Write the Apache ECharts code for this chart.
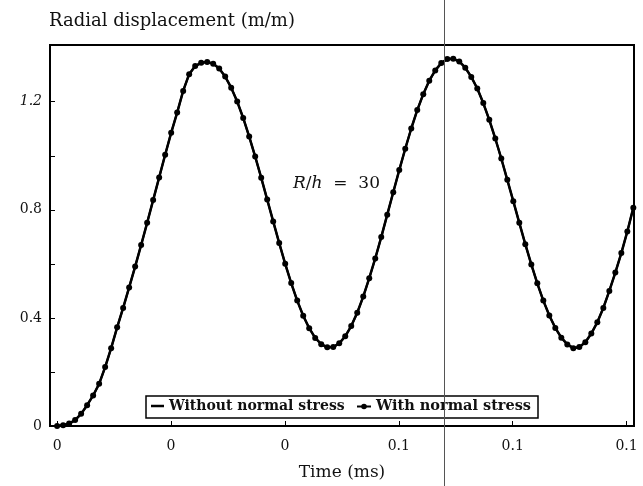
<!DOCTYPE html>
<html>
<head>
<meta charset="utf-8">
<script src="https://cdn.jsdelivr.net/npm/echarts@6/dist/echarts.min.js"></script>
<style>html,body{margin:0;padding:0;background:#fff;}#c{width:643px;height:486px;}</style>
</head>
<body>
<div id="c"></div>
<script>
// Sampling step of the plotted points (ms)
const timeStep = 0.001054;
// Radial displacement (m/m), with normal stress (marked line)
const withNormal = [
  0, 0.003, 0.009, 0.022, 0.045, 0.077, 0.113, 0.156, 0.218, 0.288,
  0.365, 0.437, 0.513, 0.590, 0.670, 0.752, 0.836, 0.920, 1.004, 1.085,
  1.160, 1.240, 1.302, 1.332, 1.344, 1.347, 1.341, 1.323, 1.293, 1.252,
  1.201, 1.140, 1.071, 0.997, 0.919, 0.838, 0.757, 0.677, 0.600, 0.529,
  0.464, 0.408, 0.362, 0.326, 0.303, 0.291, 0.292, 0.306, 0.332, 0.370,
  0.419, 0.479, 0.547, 0.620, 0.699, 0.782, 0.865, 0.947, 1.026, 1.101,
  1.169, 1.228, 1.278, 1.316, 1.343, 1.358, 1.359, 1.349, 1.326, 1.292,
  1.249, 1.195, 1.133, 1.064, 0.990, 0.911, 0.832, 0.752, 0.673, 0.598,
  0.528, 0.464, 0.409, 0.363, 0.327, 0.302, 0.288, 0.292, 0.310, 0.342,
  0.384, 0.437, 0.500, 0.568, 0.640, 0.720, 0.808
];
// Radial displacement (m/m), without normal stress (plain line)
const withoutNormal = [
  0, 0.003, 0.009, 0.022, 0.045, 0.077, 0.113, 0.156, 0.218, 0.288,
  0.365, 0.437, 0.513, 0.590, 0.670, 0.752, 0.836, 0.920, 1.004, 1.085,
  1.160, 1.240, 1.302, 1.332, 1.344, 1.347, 1.341, 1.323, 1.293, 1.252,
  1.201, 1.140, 1.071, 0.997, 0.919, 0.838, 0.757, 0.677, 0.600, 0.529,
  0.464, 0.408, 0.362, 0.326, 0.303, 0.291, 0.292, 0.306, 0.332, 0.370,
  0.419, 0.479, 0.547, 0.620, 0.699, 0.782, 0.865, 0.947, 1.026, 1.101,
  1.169, 1.228, 1.278, 1.316, 1.343, 1.358, 1.359, 1.349, 1.326, 1.292,
  1.249, 1.195, 1.133, 1.064, 0.990, 0.911, 0.832, 0.752, 0.673, 0.598,
  0.528, 0.464, 0.409, 0.363, 0.327, 0.302, 0.288, 0.292, 0.310, 0.342,
  0.384, 0.437, 0.500, 0.568, 0.640, 0.720, 0.808
];
const seriesNames = ['Without normal stress', 'With normal stress'];
const xTickValues = [0, 0.02, 0.04, 0.06, 0.08, 0.1];
const xTickLabels = ['0', '0', '0', '0.1', '0.1', '0.1'];
const yTickValues = [0, 0.2, 0.4, 0.6, 0.8, 1.0, 1.2];
const yLabelValues = [0, 0.4, 0.8, 1.2];
const yLabelTexts = ['0', '0.4', '0.8', '{it|1.2}'];
const titleText = 'Radial displacement (m/m)';
const xName = 'Time (ms)';
const annotation = '{i|R}/{i|h}  =  30';

function pairs(vals) { return vals.map((v, i) => [i * timeStep, v]); }
function pick(values, texts, v) {
  let best = 0;
  values.forEach((x, i) => { if (Math.abs(x - v) < Math.abs(values[best] - v)) best = i; });
  return texts[best];
}
const serif = 'DejaVu Serif';
const legendText = { fontFamily: serif, fontSize: 14, fontWeight: 'bold', color: '#111' };
const chart = echarts.init(document.getElementById('c'), null, { renderer: 'canvas' });
chart.setOption({
  backgroundColor: '#fff',
  animation: false,
  title: {
    text: titleText, left: 44, top: 7,
    textStyle: { fontFamily: serif, fontSize: 18, fontWeight: 'normal', color: '#111' }
  },
  grid: { left: 50, right: 9, top: 45, bottom: 59, show: true, borderColor: '#000', borderWidth: 2, backgroundColor: 'transparent' },
  legend: [
    {
      left: 151, top: 399, padding: 0, z: 10, itemWidth: 13, itemHeight: 2.5, itemGap: 4,
      icon: 'rect', textStyle: legendText, data: [seriesNames[0]]
    },
    {
      left: 356, top: 399, padding: 0, z: 10, itemWidth: 14, itemHeight: 7, itemGap: 4,
      textStyle: Object.assign({}, legendText, { fontSize: 14.5 }), data: [seriesNames[1]]
    }
  ],
  xAxis: {
    type: 'value', min: -0.00125, max: 0.1013,
    name: xName, nameLocation: 'middle', nameGap: 38,
    nameTextStyle: { fontFamily: serif, fontSize: 17, color: '#111' },
    axisLine: { show: false, onZero: false },
    axisTick: { show: true, inside: true, length: 5, customValues: xTickValues, lineStyle: { color: '#000' } },
    axisLabel: {
      customValues: xTickValues, margin: 13,
      formatter: v => pick(xTickValues, xTickLabels, v),
      fontFamily: serif, fontSize: 14, color: '#111'
    },
    splitLine: { show: false }
  },
  yAxis: {
    type: 'value', min: 0, max: 1.41,
    axisLine: { show: false, onZero: false },
    axisTick: { show: true, inside: true, length: 5, customValues: yTickValues, lineStyle: { color: '#000' } },
    axisLabel: {
      customValues: yLabelValues, margin: 8,
      formatter: v => pick(yLabelValues, yLabelTexts, v),
      fontFamily: serif, fontSize: 14, color: '#111',
      rich: { it: { fontFamily: serif, fontSize: 14, fontStyle: 'italic', color: '#111' } }
    },
    splitLine: { show: false }
  },
  series: [
    {
      name: seriesNames[0], type: 'line', data: pairs(withoutNormal),
      showSymbol: false, symbol: 'none',
      lineStyle: { color: '#000', width: 2.5 }, itemStyle: { color: '#000' }, z: 2
    },
    {
      name: seriesNames[1], type: 'line', data: pairs(withNormal),
      symbol: 'circle', symbolSize: 6, showSymbol: true,
      lineStyle: { color: '#000', width: 2 }, itemStyle: { color: '#000' }, z: 3
    }
  ],
  graphic: [
    {
      type: 'rect', z: 5,
      shape: { x: 146, y: 396, width: 392, height: 22 },
      style: { fill: '#fff', stroke: '#000', lineWidth: 1.5 }
    },
    {
      type: 'text', left: 293, top: 175, z: 10,
      style: {
        text: annotation,
        rich: { i: { fontFamily: serif, fontStyle: 'italic', fontSize: 17, fill: '#111' } },
        fontFamily: serif, fontSize: 17, fill: '#111'
      }
    },
    {
      type: 'line', z: 100,
      shape: { x1: 444.5, y1: 0, x2: 444.5, y2: 486 },
      style: { stroke: '#555', lineWidth: 1 }
    }
  ]
});
</script>
</body>
</html>
